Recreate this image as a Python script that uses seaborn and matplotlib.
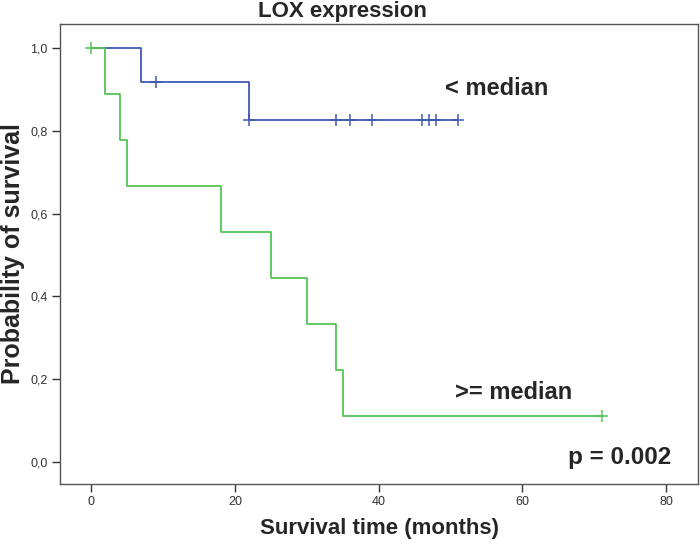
import numpy as np
import pandas as pd
import seaborn as sns
import matplotlib
matplotlib.use('Agg')
from matplotlib import pyplot as plt

# Kaplan-Meier steps
low_time = [0, 7, 22, 51]
low_surv = [1.0, 0.917, 0.825, 0.825]
low_cens_time = [9, 22, 34, 36, 39, 46, 47, 48, 51]
low_cens_surv = [0.917, 0.825, 0.825, 0.825, 0.825, 0.825, 0.825, 0.825, 0.825]

high_time = [0, 2, 4, 5, 18, 25, 30, 34, 35, 71]
high_surv = [1.0, 0.889, 0.778, 0.667, 0.556, 0.444, 0.333, 0.222, 0.111, 0.111]
high_cens_time = [0, 71]
high_cens_surv = [1.0, 0.111]

x_ticks = [0, 20, 40, 60, 80]
y_ticks = [0.0, 0.2, 0.4, 0.6, 0.8, 1.0]
y_ticklabels = ['0,0', '0,2', '0,4', '0,6', '0,8', '1,0']

blue = '#4058b4'
green = '#55c457'

sns.set_style('white')
plt.rcParams['font.family'] = ['Liberation Sans', 'DejaVu Sans']

fig = plt.figure(figsize=(7, 5.45), dpi=100)
ax = fig.add_axes([0.086, 0.112, 0.911, 0.844])

low = pd.DataFrame({'t': low_time, 's': low_surv})
high = pd.DataFrame({'t': high_time, 's': high_surv})
sns.lineplot(data=low, x='t', y='s', ax=ax, color=blue, lw=1.3,
             drawstyle='steps-post', estimator=None)
sns.lineplot(data=high, x='t', y='s', ax=ax, color=green, lw=1.3,
             drawstyle='steps-post', estimator=None)
ax.plot(low_cens_time, low_cens_surv, ls='none', marker='+', ms=8, mew=1.1, color=blue)
ax.plot(high_cens_time, high_cens_surv, ls='none', marker='+', ms=8, mew=1.1, color=green)

ax.set_xlim(-4.3, 84.4)
ax.set_ylim(-0.053, 1.058)
ax.set_xticks(x_ticks)
ax.set_yticks(y_ticks)
ax.set_yticklabels(y_ticklabels)
ax.tick_params(axis='both', direction='out', length=6, width=1, color='#333333',
               labelsize=9, labelcolor='#333333', bottom=True, left=True, pad=3)
for sp in ax.spines.values():
    sp.set_color('#555555')
    sp.set_linewidth(1)

ax.set_xlabel('Survival time (months)', fontsize=16, fontweight='bold', labelpad=7)
ax.set_ylabel('Probability of survival', fontsize=18, fontweight='bold', labelpad=4)
fig.text(0.489, 0.978, 'LOX expression', ha='center', va='center',
         fontsize=16, fontweight='bold')

ax.text(49.2, 0.903, '< median', fontsize=17, fontweight='bold', va='center')
ax.text(50.6, 0.169, '>= median', fontsize=17, fontweight='bold', va='center')
ax.text(66.3, 0.012, 'p = 0.002', fontsize=17.5, fontweight='bold', va='center')

plt.savefig('out.png', dpi=100)
